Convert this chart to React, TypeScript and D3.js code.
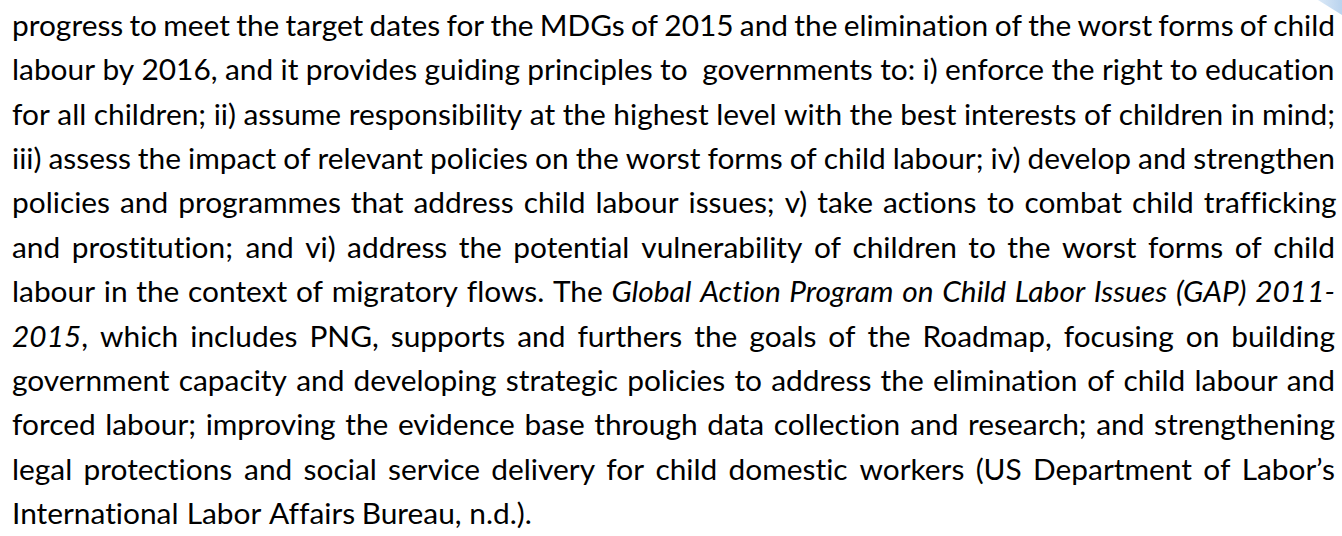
import React, { useMemo } from "react";
import * as d3 from "d3";

// Paragraph lines as they break in the reference; *...* marks italic runs.
const paragraphLines: string[] = [
  "progress to meet the target dates for the MDGs of 2015 and the elimination of the worst forms of child",
  "labour by 2016, and it provides guiding principles to  governments to: i) enforce the right to education",
  "for all children; ii) assume responsibility at the highest level with the best interests of children in mind;",
  "iii) assess the impact of relevant policies on the worst forms of child labour; iv) develop and strengthen",
  "policies and programmes that address child labour issues; v) take actions to combat child trafficking",
  "and prostitution; and vi) address the potential vulnerability of children to the worst forms of child",
  "labour in the context of migratory flows. The *Global Action Program on Child Labor Issues (GAP) 2011-*",
  "*2015*, which includes PNG, supports and furthers the goals of the Roadmap, focusing on building",
  "government capacity and developing strategic policies to address the elimination of child labour and",
  "forced labour; improving the evidence base through data collection and research; and strengthening",
  "legal protections and social service delivery for child domestic workers (US Department of Labor\u2019s",
  "International Labor Affairs Bureau, n.d.).",
];

const W = 1342;
const H = 536;
const LEFT = 12;
const RIGHT = 1335;
const LAST_LINE_END = 532;
const FIRST_BASELINE = 36;
const LAST_BASELINE = 524;
const FONT_FAMILY = "Lato";

type Run = { text: string; italic: boolean };
type Word = { runs: Run[] };

function parseLine(line: string): Word[] {
  const words: Word[] = [];
  let italic = false;
  let cur: Word = { runs: [] };
  let buf = "";
  const flush = () => {
    if (buf.length) cur.runs.push({ text: buf, italic });
    buf = "";
  };
  for (const ch of line) {
    if (ch === "*") {
      flush();
      italic = !italic;
    } else if (ch === " ") {
      flush();
      words.push(cur);
      cur = { runs: [] };
    } else {
      buf += ch;
    }
  }
  flush();
  words.push(cur);
  return words;
}

const noLig: React.CSSProperties = {
  fontVariantLigatures: "none",
  fontFeatureSettings: '"liga" 0, "clig" 0, "dlig" 0',
};

export default function App() {
  const layout = useMemo(() => {
    const canvas = document.createElement("canvas");
    const ctx = canvas.getContext("2d")!;
    const measureAt = (t: string, italic: boolean, size: number) => {
      ctx.font = `${italic ? "italic " : ""}${size}px ${FONT_FAMILY}`;
      return ctx.measureText(t).width;
    };
    // fit font size so that the (unjustified) last line spans as in the reference
    const lastText = paragraphLines[paragraphLines.length - 1].replace(/\*/g, "");
    const fontSize = (100 * (LAST_LINE_END - LEFT)) / measureAt(lastText, false, 100);
    const measure = (t: string, italic: boolean) => measureAt(t, italic, fontSize);
    const y = d3
      .scaleLinear()
      .domain([0, paragraphLines.length - 1])
      .range([FIRST_BASELINE, LAST_BASELINE]);
    const spaceW = measure(" ", false);
    const lines = paragraphLines.map((line, i) => {
      const words = parseLine(line);
      const widths = words.map((w) => d3.sum(w.runs, (r) => measure(r.text, r.italic)));
      const total = d3.sum(widths);
      const nSpaces = words.length - 1;
      const isLast = i === paragraphLines.length - 1;
      let gap = isLast || nSpaces === 0 ? spaceW : (RIGHT - LEFT - total) / nSpaces;
      const minGap = spaceW * 0.6;
      let squeeze = 1;
      if (gap < minGap) {
        squeeze = (RIGHT - LEFT - nSpaces * minGap) / total;
        gap = minGap;
      }
      let x = LEFT;
      const placed = words.map((w, k) => {
        const item = { word: w, x, width: widths[k] * squeeze, squeezed: squeeze < 1 };
        x += widths[k] * squeeze + gap;
        return item;
      });
      return { y: y(i), placed };
    });
    return { fontSize, lines };
  }, []);

  return (
    <svg
      width={W}
      height={H}
      style={{ position: "absolute", left: 0, top: 0, background: "#fff", ...noLig }}
      fontFamily={FONT_FAMILY}
      fontSize={layout.fontSize}
    >
      <defs>
        <linearGradient id="cornerGrad" x1="0" y1="0" x2="1" y2="0">
          <stop offset="0" stopColor="#dbe9f7" />
          <stop offset="1" stopColor="#b9d3ee" />
        </linearGradient>
      </defs>
      <rect width={W} height={H} fill="#ffffff" />
      <polygon points={`${W - 24},0 ${W},0 ${W},15`} fill="url(#cornerGrad)" />
      {layout.lines.map((ln, i) => (
        <g key={i}>
          {ln.placed
            .filter((p) => p.word.runs.length > 0)
            .map((p, k) => (
              <text
                key={k}
                x={p.x}
                y={ln.y}
                fill="#000"
                style={noLig}
                {...(p.squeezed ? { textLength: p.width, lengthAdjust: "spacingAndGlyphs" } : {})}
              >
                {p.word.runs.map((r, j) => (
                  <tspan key={j} fontStyle={r.italic ? "italic" : "normal"} style={noLig}>
                    {r.text}
                  </tspan>
                ))}
              </text>
            ))}
        </g>
      ))}
    </svg>
  );
}
